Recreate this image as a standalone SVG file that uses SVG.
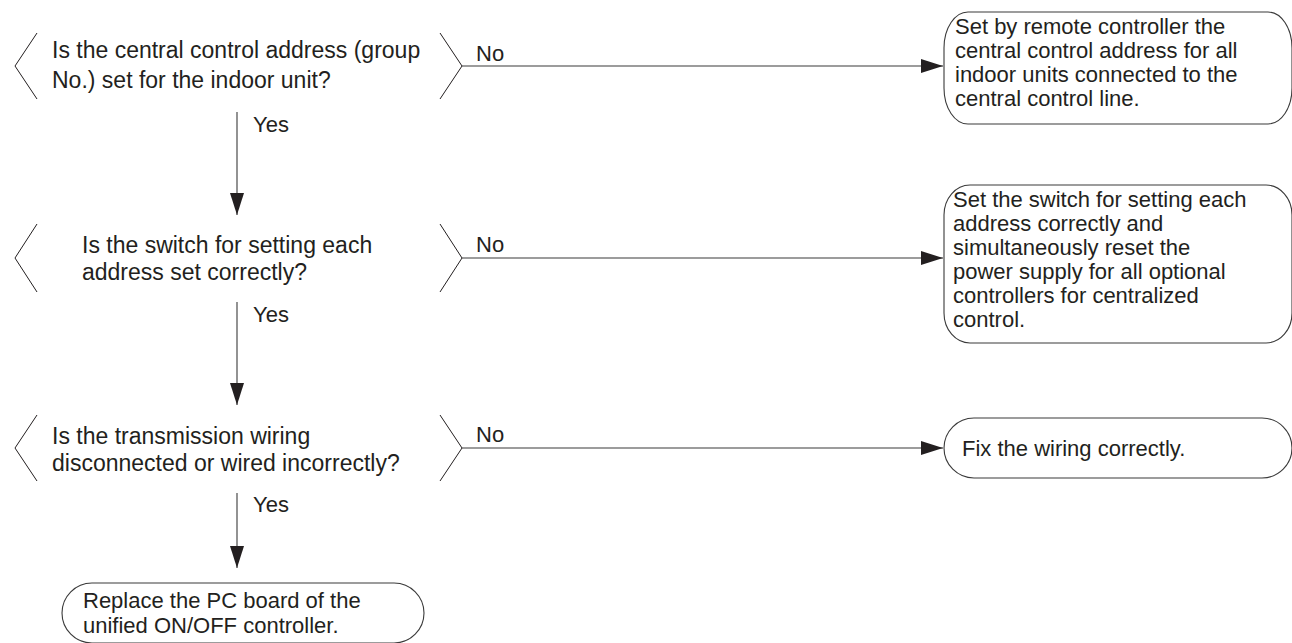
<svg xmlns="http://www.w3.org/2000/svg" width="1292" height="643" viewBox="0 0 1292 643">
<defs>
<style>
text{font-family:"Liberation Sans",Arial,sans-serif;font-size:22px;fill:#231f20}
.q{font-size:23px}
.br{fill:none;stroke:#231f20;stroke-width:1}
.bx{fill:none;stroke:#3a3a3a;stroke-width:1.1}
.cn{fill:none;stroke:#3a3a3a;stroke-width:1.1}
</style>
<marker id="ah" viewBox="0 0 22 14" refX="22" refY="7" markerWidth="22" markerHeight="14" markerUnits="userSpaceOnUse" orient="auto">
<path d="M0,0 L22,7 L0,14 Z" fill="#231f20"/>
</marker>
</defs>
<rect width="1292" height="643" fill="#fff"/>
<g id="d1">
<polyline class="br" points="37,33 15,66 37,99"/>
<polyline class="br" points="440,33 462,66 440,99"/>
<text class="q" x="52" y="58">Is the central control address (group</text>
<text class="q" x="52" y="88">No.) set for the indoor unit?</text>
</g>
<g id="d2">
<polyline class="br" points="37,224 15,258 37,292"/>
<polyline class="br" points="440,224 462,258 440,292"/>
<text class="q" x="82" y="253">Is the switch for setting each</text>
<text class="q" x="82" y="280">address set correctly?</text>
</g>
<g id="d3">
<polyline class="br" points="37,415 15,448 37,481"/>
<polyline class="br" points="440,415 462,448 440,481"/>
<text class="q" x="52" y="444">Is the transmission wiring</text>
<text class="q" x="52" y="471">disconnected or wired incorrectly?</text>
</g>
<g id="b1">
<path class="bx" d="M968,12 H1268 A24,36 0 0 1 1292,48 V88 A24,36 0 0 1 1268,124 H968 A24,36 0 0 1 944,88 V48 A24,36 0 0 1 968,12 Z"/>
<text x="955" y="34">Set by remote controller the</text>
<text x="955" y="58">central control address for all</text>
<text x="955" y="82">indoor units connected to the</text>
<text x="955" y="106">central control line.</text>
</g>
<g id="b2">
<path class="bx" d="M970,185 H1266 A26,30 0 0 1 1292,215 V313 A26,30 0 0 1 1266,343 H970 A26,30 0 0 1 944,313 V215 A26,30 0 0 1 970,185 Z"/>
<text x="953" y="207">Set the switch for setting each</text>
<text x="953" y="231">address correctly and</text>
<text x="953" y="255">simultaneously reset the</text>
<text x="953" y="279">power supply for all optional</text>
<text x="953" y="303">controllers for centralized</text>
<text x="953" y="327">control.</text>
</g>
<g id="b3">
<path class="bx" d="M974,418 H1262 A30,30 0 0 1 1292,448 A30,30 0 0 1 1262,478 H974 A30,30 0 0 1 944,448 A30,30 0 0 1 974,418 Z"/>
<text x="962" y="456">Fix the wiring correctly.</text>
</g>
<g id="b4">
<path class="bx" d="M92,583 H394 A30,30 0 0 1 424,613 A30,30 0 0 1 394,643 H92 A30,30 0 0 1 62,613 A30,30 0 0 1 92,583 Z"/>
<text x="83" y="608">Replace the PC board of the</text>
<text x="83" y="633">unified ON/OFF controller.</text>
</g>
<g id="connectors">
<line class="cn" x1="462" y1="66" x2="943" y2="66" marker-end="url(#ah)"/>
<line class="cn" x1="462" y1="258" x2="943" y2="258" marker-end="url(#ah)"/>
<line class="cn" x1="462" y1="448" x2="943" y2="448" marker-end="url(#ah)"/>
<line class="cn" x1="237" y1="112" x2="237" y2="215" marker-end="url(#ah)"/>
<line class="cn" x1="237" y1="302" x2="237" y2="405" marker-end="url(#ah)"/>
<line class="cn" x1="237" y1="493" x2="237" y2="568" marker-end="url(#ah)"/>
<text x="476" y="61">No</text>
<text x="476" y="252">No</text>
<text x="476" y="442">No</text>
<text x="253" y="132">Yes</text>
<text x="253" y="322">Yes</text>
<text x="253" y="512">Yes</text>
</g>
</svg>
